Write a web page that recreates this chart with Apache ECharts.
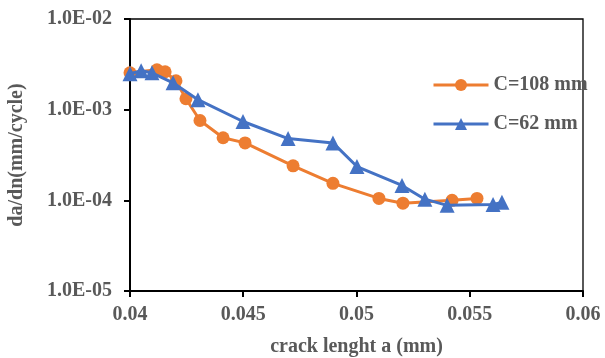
<!DOCTYPE html>
<html><head><meta charset="utf-8">
<script src="https://cdn.jsdelivr.net/npm/echarts@6/dist/echarts.min.js"></script>
<style>html,body{margin:0;padding:0;background:#fff}#c{width:605px;height:358px}</style>
</head><body><div id="c"></div>
<script>
var seriesNames = ['C=108 mm', 'C=62 mm'];
var orangeX = [0.0400, 0.04119, 0.04155, 0.04203, 0.04247, 0.04309, 0.04411, 0.04508, 0.0472, 0.04896, 0.05099, 0.05205, 0.05422, 0.05532];
var orangeY = [2.55e-3, 2.75e-3, 2.62e-3, 2.08e-3, 1.32e-3, 7.6e-4, 4.9e-4, 4.3e-4, 2.4e-4, 1.54e-4, 1.05e-4, 9.3e-5, 1.0e-4, 1.05e-4];
var blueX = [0.0400, 0.04049, 0.04097, 0.0419, 0.0430, 0.04499, 0.04698, 0.04896, 0.05002, 0.05201, 0.05302, 0.0540, 0.05603, 0.05642];
var blueY = [2.49e-3, 2.68e-3, 2.55e-3, 1.98e-3, 1.29e-3, 7.4e-4, 4.8e-4, 4.3e-4, 2.36e-4, 1.46e-4, 1.03e-4, 8.8e-5, 9.0e-5, 9.5e-5];
var xTitle = 'crack lenght a (mm)';
var yTitle = 'da/dn(mm/cycle)';

function pairs(xs, ys){ return xs.map(function(x,i){ return [x, ys[i]]; }); }
var font = '"Liberation Serif","Times New Roman",serif';
var txt = {fontFamily: font, fontWeight: 'bold', fontSize: 20, color: '#595959'};

var chart = echarts.init(document.getElementById('c'), null, {renderer:'canvas'});
chart.setOption({
  animation: false,
  backgroundColor: '#fff',
  grid: {left: 130, top: 19, right: 22, bottom: 67, outerBoundsMode: 'none', containLabel: false,
         show: true, borderColor: '#000', borderWidth: 1.3, backgroundColor: 'transparent'},
  legend: {
    orient: 'vertical', left: 427, top: 70, itemWidth: 55, itemHeight: 15, itemGap: 19,
    lineStyle: {width: 3},
    textStyle: Object.assign({}, txt, {padding: [0,0,0,0]}),
    data: seriesNames
  },
  xAxis: {
    type: 'value', min: 0.04, max: 0.06, interval: 0.005,
    name: xTitle, nameLocation: 'middle', nameGap: 46,
    nameTextStyle: txt,
    axisLine: {show: true, onZero: false, lineStyle: {color: '#000', width: 2}},
    axisTick: {show: true, length: 6, lineStyle: {color: '#000', width: 2}},
    splitLine: {show: false},
    axisLabel: Object.assign({}, txt, {margin: 14, formatter: function(v){ return String(parseFloat(v.toFixed(4))); }})
  },
  yAxis: {
    type: 'log', logBase: 10, min: 1e-5, max: 1e-2,
    name: yTitle, nameLocation: 'middle', nameGap: 103,
    nameTextStyle: txt,
    axisLine: {show: true, lineStyle: {color: '#000', width: 2}},
    axisTick: {show: true, length: 6, lineStyle: {color: '#000', width: 2}},
    minorTick: {show: false},
    splitLine: {show: false},
    axisLabel: Object.assign({}, txt, {margin: 18, formatter: function(v){
      var e = Math.round(Math.log10(v));
      var a = Math.abs(e);
      return '1.0E' + (e < 0 ? '-' : '+') + (a < 10 ? '0' : '') + a;
    }})
  },
  series: [
    {name: seriesNames[0], type: 'line', data: pairs(orangeX, orangeY), symbol: 'circle', symbolSize: 13,
     color: '#ED7D31', lineStyle: {width: 3, color: '#ED7D31'}, itemStyle: {color: '#ED7D31'}, z: 2},
    {name: seriesNames[1], type: 'line', data: pairs(blueX, blueY), symbol: 'triangle', symbolSize: 15,
     color: '#4472C4', lineStyle: {width: 3, color: '#4472C4'}, itemStyle: {color: '#4472C4'}, z: 3}
  ]
});
</script></body></html>
